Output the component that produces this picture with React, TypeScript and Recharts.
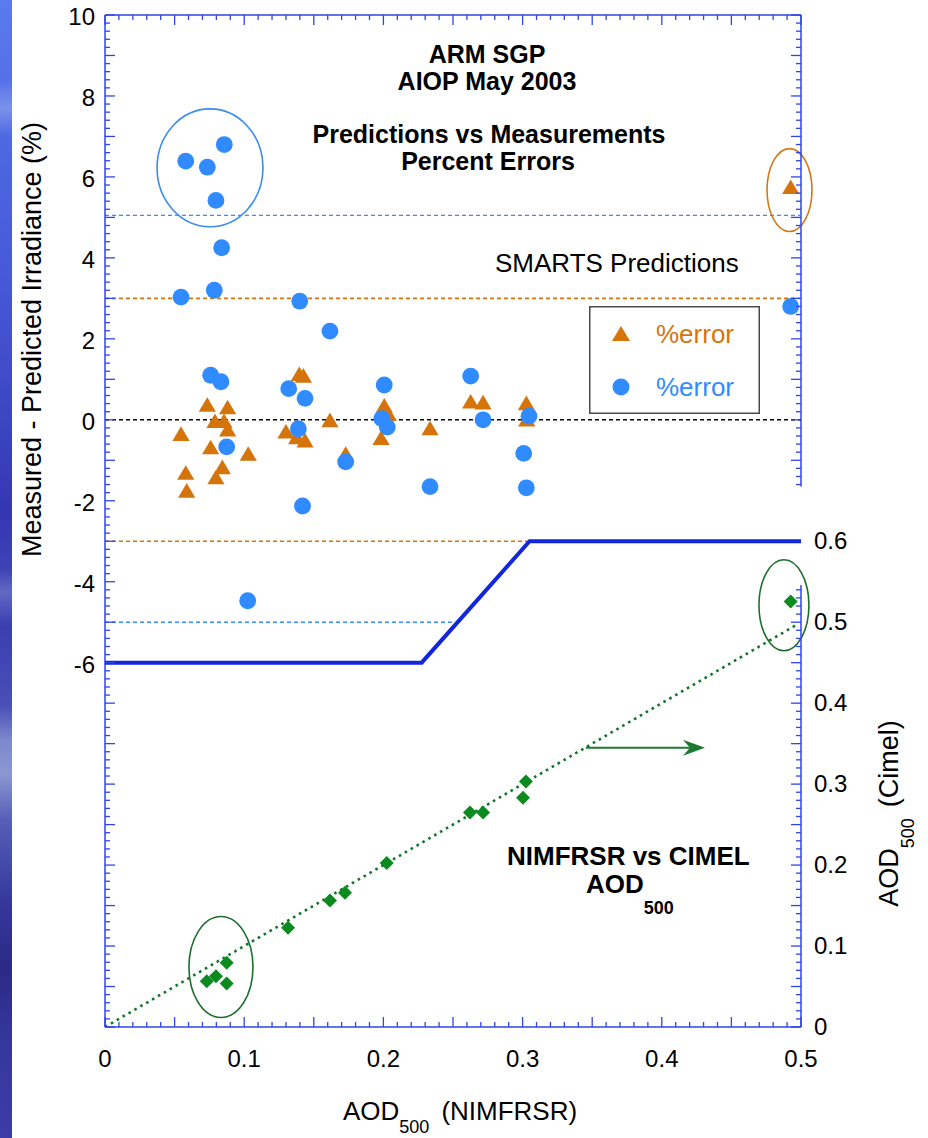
import React from 'react';
import {
  ScatterChart,
  Scatter,
  XAxis,
  YAxis,
  ReferenceLine,
  ReferenceArea,
  Legend,
} from 'recharts';

const W = 928;
const H = 1138;
const FONT = '"Liberation Sans", Arial, Helvetica, sans-serif';
const AXIS = '#2f45e8';
const ORANGE = '#d5740b';
const BLUE = '#2f8bff';
const GREEN = '#0b8a1f';
const DARK_GREEN = '#1d6e2e';
const LINE_BLUE = '#1227dc';

// Percent error (measured - predicted irradiance) vs AOD500 from NIMFRSR, triangle series
const trianglePctError = [
  { x: 0.0546, y: -0.36 },
  { x: 0.058, y: -1.32 },
  { x: 0.0587, y: -1.76 },
  { x: 0.0735, y: 0.36 },
  { x: 0.079, y: -0.04 },
  { x: 0.0759, y: -0.69 },
  { x: 0.0855, y: -0.04 },
  { x: 0.0881, y: 0.3 },
  { x: 0.0881, y: -0.25 },
  { x: 0.0843, y: -1.18 },
  { x: 0.0797, y: -1.43 },
  { x: 0.1029, y: -0.85 },
  { x: 0.13, y: -0.3 },
  { x: 0.1396, y: 1.12 },
  { x: 0.1425, y: 1.08 },
  { x: 0.1377, y: -0.44 },
  { x: 0.1437, y: -0.52 },
  { x: 0.1616, y: -0.02 },
  { x: 0.1729, y: -0.85 },
  { x: 0.2006, y: 0.34 },
  { x: 0.2035, y: 0.14 },
  { x: 0.1983, y: -0.46 },
  { x: 0.2335, y: -0.22 },
  { x: 0.2627, y: 0.44 },
  { x: 0.2716, y: 0.42 },
  { x: 0.3027, y: 0.4 },
  { x: 0.303, y: 0.0 },
  { x: 0.4926, y: 5.74 },
];

// Percent error vs AOD500 from NIMFRSR, circle series
const circlePctError = [
  { x: 0.058, y: 6.39 },
  { x: 0.0735, y: 6.24 },
  { x: 0.0857, y: 6.8 },
  { x: 0.0797, y: 5.42 },
  { x: 0.0838, y: 4.25 },
  { x: 0.0546, y: 3.03 },
  { x: 0.0785, y: 3.2 },
  { x: 0.1399, y: 2.93 },
  { x: 0.1616, y: 2.19 },
  { x: 0.0759, y: 1.1 },
  { x: 0.0833, y: 0.94 },
  { x: 0.0874, y: -0.67 },
  { x: 0.132, y: 0.77 },
  { x: 0.1437, y: 0.53 },
  { x: 0.1389, y: -0.22 },
  { x: 0.1419, y: -2.13 },
  { x: 0.1729, y: -1.04 },
  { x: 0.2006, y: 0.86 },
  { x: 0.1988, y: 0.03 },
  { x: 0.2028, y: -0.18 },
  { x: 0.2335, y: -1.65 },
  { x: 0.2627, y: 1.08 },
  { x: 0.2716, y: 0.0 },
  { x: 0.3008, y: -0.83 },
  { x: 0.3027, y: -1.68 },
  { x: 0.3046, y: 0.09 },
  { x: 0.4926, y: 2.8 },
  { x: 0.1025, y: -4.47 },
];

// AOD500: NIMFRSR (x) vs CIMEL (y, right axis)
const cimelVsNimfrsr = [
  { x: 0.0731, y: 0.0565 },
  { x: 0.0797, y: 0.0627 },
  { x: 0.0874, y: 0.0793 },
  { x: 0.0874, y: 0.0537 },
  { x: 0.1315, y: 0.1225 },
  { x: 0.1616, y: 0.1562 },
  { x: 0.1724, y: 0.1657 },
  { x: 0.2024, y: 0.2027 },
  { x: 0.2622, y: 0.2648 },
  { x: 0.2716, y: 0.2648 },
  { x: 0.3024, y: 0.3031 },
  { x: 0.3003, y: 0.2833 },
  { x: 0.4926, y: 0.5257 },
];

// 1:1 reference line for the AOD comparison
const oneToOne = [
  { x: 0, y: 0 },
  { x: 0.497, y: 0.497 },
];

// Error-limit envelope (left axis units)
const limitEnvelope = [
  { x: 0, y: -6 },
  { x: 0.2275, y: -6 },
  { x: 0.305, y: -3 },
  { x: 0.5, y: -3 },
];

// Outlined groups of points (axis-unit bounds)
const blueGroup = { x1: 0.0374, x2: 0.1135, y1: 4.77, y2: 7.68 };
const orangeGroup = { x1: 0.4756, x2: 0.5079, y1: 4.65, y2: 6.7 };
const greenHighGroup = { x1: 0.4698, x2: 0.5057, y1: 0.4648, y2: 0.5772 };
const greenLowGroup = { x1: 0.0603, x2: 0.1063, y1: 0.0117, y2: 0.1364 };
// Arrow pointing toward the right-hand axis
const rightArrow = { x1: 0.3455, x2: 0.431, y1: 0.335, y2: 0.355 };

// Tick labels
const xTickLabels = [0, 0.1, 0.2, 0.3, 0.4, 0.5];
const leftTickLabels = [-6, -4, -2, 0, 2, 4, 6, 8, 10];
const rightTickLabels = [0, 0.1, 0.2, 0.3, 0.4, 0.5, 0.6];

const stepTicks = (from: number, to: number, per: number) => {
  const out: number[] = [];
  for (let i = Math.round(from * per); i <= Math.round(to * per); i++) out.push(i / per);
  return out;
};

const xTicks = stepTicks(0, 0.5, 100);
const leftTicks = stepTicks(-15, 10, 5);
const rightTicks = [...stepTicks(0, 0.54, 100), 0.6, ...stepTicks(0.67, 1.25, 100)];

const near = (a: number, b: number) => Math.abs(a - b) < 1e-6;
const isInt = (v: number) => near(v, Math.round(v));

const labelStyle = { fontFamily: FONT, fontSize: 24, fill: '#000' } as const;

const BottomTick = (p: any) => {
  const v = p.payload.value;
  const k = Math.round(v * 100);
  const len = k % 5 === 0 ? 10 : 5;
  const lab = xTickLabels.find((t) => near(t, v));
  return (
    <g>
      <line x1={p.x} x2={p.x} y1={p.y} y2={p.y - len} stroke={AXIS} strokeWidth={1.3} />
      {lab !== undefined && (
        <text x={p.x} y={p.y + 40} textAnchor="middle" {...labelStyle}>
          {lab === 0 ? '0' : lab.toFixed(1)}
        </text>
      )}
    </g>
  );
};

const TopTick = (p: any) => {
  const v = p.payload.value;
  const k = Math.round(v * 100);
  const len = k % 5 === 0 ? 10 : 5;
  return <line x1={p.x} x2={p.x} y1={p.y} y2={p.y + len} stroke={AXIS} strokeWidth={1.3} />;
};

const LeftTick = (p: any) => {
  const v = p.payload.value;
  const len = isInt(v) ? 10 : 5;
  const lab = leftTickLabels.find((t) => near(t, v));
  return (
    <g>
      <line x1={p.x} x2={p.x + len} y1={p.y} y2={p.y} stroke={AXIS} strokeWidth={1.3} />
      {lab !== undefined && (
        <text x={p.x - 10} y={p.y + 10} textAnchor="end" {...labelStyle}>
          {String(lab)}
        </text>
      )}
    </g>
  );
};

const RightTick = (p: any) => {
  const v = p.payload.value;
  const lab = rightTickLabels.find((t) => near(t, v));
  const onAxis = v <= 0.545 || v >= 0.665;
  const len = isInt(v * 20 - 15) ? 10 : 5;
  return (
    <g>
      {onAxis && <line x1={p.x} x2={p.x - len} y1={p.y} y2={p.y} stroke={AXIS} strokeWidth={1.3} />}
      {lab !== undefined && (
        <text x={p.x + 13} y={p.y + 8} textAnchor="start" {...labelStyle}>
          {lab === 0 ? '0' : lab.toFixed(1)}
        </text>
      )}
    </g>
  );
};

const ellipseShape = (stroke: string) => (p: any) => (
  <ellipse
    cx={p.x + p.width / 2}
    cy={p.y + p.height / 2}
    rx={Math.abs(p.width) / 2}
    ry={Math.abs(p.height) / 2}
    fill="none"
    stroke={stroke}
    strokeWidth={1.6}
  />
);

const arrowShape = (p: any) => {
  const y = p.y + p.height / 2;
  const x0 = p.x;
  const x1 = p.x + p.width;
  return (
    <g>
      <line x1={x0} x2={x1 - 10} y1={y} y2={y} stroke="#1e7a30" strokeWidth={2} />
      <polygon
        points={`${x1},${y} ${x1 - 22},${y - 8} ${x1 - 15},${y} ${x1 - 22},${y + 8}`}
        fill="#1e7a30"
      />
    </g>
  );
};

const TriangleMark = (p: any) => (
  <polygon
    points={`${p.cx},${p.cy - 8} ${p.cx - 8.6},${p.cy + 6.6} ${p.cx + 8.6},${p.cy + 6.6}`}
    fill={ORANGE}
  />
);
const CircleMark = (p: any) => <circle cx={p.cx} cy={p.cy} r={8.4} fill={BLUE} />;
const DiamondMark = (p: any) => (
  <polygon
    points={`${p.cx},${p.cy - 7} ${p.cx + 7},${p.cy} ${p.cx},${p.cy + 7} ${p.cx - 7},${p.cy}`}
    fill={GREEN}
  />
);
const NoMark = () => <g />;

const LegendBox = (props: any) => {
  const items = (props.payload || []).filter((e: any) => e.type === 'triangle' || e.type === 'circle');
  return (
    <svg width={171} height={108} style={{ display: 'block' }}>
      <rect x={0.75} y={0.75} width={169.5} height={106.5} fill="#fff" stroke="#4a4a4a" strokeWidth={1.5} />
      {items.map((e: any, i: number) => {
        const cy = 28 + i * 53;
        const color = e.type === 'triangle' ? ORANGE : BLUE;
        return (
          <g key={i}>
            {e.type === 'triangle' ? (
              <polygon points={`32,${cy - 8} ${23},${cy + 7} ${41},${cy + 7}`} fill={color} />
            ) : (
              <circle cx={32} cy={cy} r={8.5} fill={color} />
            )}
            <text x={67} y={cy + 9} fontFamily={FONT} fontSize={26} fill={color}>
              {e.value}
            </text>
          </g>
        );
      })}
    </svg>
  );
};

const stripGradient =
  'linear-gradient(to bottom, #5b7aee 0%, #5570ea 7%, #7b92ec 9.5%, #4f68e2 12%, #4658d6 25%, #3d47c4 36%, #3636b2 45%, #3d43b6 50%, #6169c4 52%, #3a3eb0 55%, #4950b8 62%, #7c88cc 65%, #8c97d2 68%, #5560b8 72%, #36389e 79%, #2b2a88 85%, #35369c 91%, #3c3ca8 100%)';

export default function App() {
  return (
    <div style={{ position: 'absolute', left: 0, top: 0, width: W, height: H, background: '#fff' }}>
      <div style={{ position: 'absolute', left: 0, top: 0, width: 12, height: H, background: stripGradient }} />
      <div style={{ position: 'absolute', left: 0, top: 0 }}>
        <ScatterChart width={W} height={H} margin={{ top: 0, right: 0, bottom: 0, left: 0 }}>
          <XAxis
            xAxisId="top"
            orientation="top"
            type="number"
            dataKey="x"
            domain={[0, 0.5]}
            allowDataOverflow
            ticks={xTicks}
            interval={0}
            height={15}
            tickSize={0}
            tickMargin={0}
            tickLine={false}
            axisLine={{ stroke: AXIS, strokeWidth: 1.5 }}
            tick={<TopTick />}
          />
          <XAxis
            type="number"
            dataKey="x"
            domain={[0, 0.5]}
            allowDataOverflow
            ticks={xTicks}
            interval={0}
            height={111}
            tickSize={0}
            tickMargin={0}
            tickLine={false}
            axisLine={{ stroke: AXIS, strokeWidth: 1.5 }}
            tick={<BottomTick />}
          />
          <YAxis
            yAxisId="left"
            type="number"
            dataKey="y"
            domain={[-15, 10]}
            allowDataOverflow
            ticks={leftTicks}
            interval={0}
            width={105}
            tickSize={0}
            tickMargin={0}
            tickLine={false}
            axisLine={{ stroke: AXIS, strokeWidth: 1.5 }}
            tick={<LeftTick />}
          />
          <YAxis
            yAxisId="right"
            orientation="right"
            type="number"
            dataKey="y"
            domain={[0, 1.25]}
            allowDataOverflow
            ticks={rightTicks}
            interval={0}
            width={127}
            tickSize={0}
            tickMargin={0}
            tickLine={false}
            axisLine={false}
            tick={<RightTick />}
          />

          {/* right-hand axis line, upper (percent) and lower (AOD) portions */}
          <ReferenceLine
            yAxisId="left"
            segment={[{ x: 0.5, y: -1.65 }, { x: 0.5, y: 10 }]}
            stroke={AXIS}
            strokeWidth={1.5}
            ifOverflow="visible"
          />
          <ReferenceLine
            yAxisId="right"
            segment={[{ x: 0.5, y: 0 }, { x: 0.5, y: 0.546 }]}
            stroke={AXIS}
            strokeWidth={1.5}
            ifOverflow="visible"
          />

          {/* dotted reference levels */}
          <ReferenceLine yAxisId="left" y={5.05} stroke="#3a8cf5" strokeWidth={1.4} strokeDasharray="4 3" />
          <ReferenceLine yAxisId="left" y={3} stroke={ORANGE} strokeWidth={1.6} strokeDasharray="4 3" />
          <ReferenceLine yAxisId="left" y={0} stroke="#000" strokeWidth={1.6} strokeDasharray="4 3" />
          <ReferenceLine
            yAxisId="left"
            segment={[{ x: 0, y: -3 }, { x: 0.304, y: -3 }]}
            stroke={ORANGE}
            strokeWidth={1.4}
            strokeDasharray="4 3"
          />
          <ReferenceLine
            yAxisId="left"
            segment={[{ x: 0, y: -5 }, { x: 0.2505, y: -5 }]}
            stroke="#3a8cf5"
            strokeWidth={1.4}
            strokeDasharray="4 3"
          />

          <Scatter
            name="limit"
            data={limitEnvelope}
            yAxisId="left"
            line={{ stroke: LINE_BLUE, strokeWidth: 4 }}
            lineType="joint"
            shape={<NoMark />}
            legendType="none"
            isAnimationActive={false}
          />
          <Scatter
            name="1:1"
            data={oneToOne}
            yAxisId="right"
            line={{ stroke: '#12752a', strokeWidth: 2.6, strokeDasharray: '2.6 4.2' }}
            lineType="joint"
            shape={<NoMark />}
            legendType="none"
            isAnimationActive={false}
          />

          <Scatter
            name="%error"
            data={trianglePctError}
            yAxisId="left"
            fill={ORANGE}
            shape={<TriangleMark />}
            legendType="triangle"
            isAnimationActive={false}
          />
          <Scatter
            name="%error"
            data={circlePctError}
            yAxisId="left"
            fill={BLUE}
            shape={<CircleMark />}
            legendType="circle"
            isAnimationActive={false}
          />
          <Scatter
            name="AOD500"
            data={cimelVsNimfrsr}
            yAxisId="right"
            fill={GREEN}
            shape={<DiamondMark />}
            legendType="none"
            isAnimationActive={false}
          />

          <ReferenceArea yAxisId="left" {...blueGroup} ifOverflow="visible" shape={ellipseShape('#3a8ef0')} />
          <ReferenceArea yAxisId="left" {...orangeGroup} ifOverflow="visible" shape={ellipseShape('#d07a18')} />
          <ReferenceArea yAxisId="right" {...greenHighGroup} ifOverflow="visible" shape={ellipseShape(DARK_GREEN)} />
          <ReferenceArea yAxisId="right" {...greenLowGroup} ifOverflow="visible" shape={ellipseShape(DARK_GREEN)} />
          <ReferenceArea yAxisId="right" {...rightArrow} ifOverflow="visible" shape={arrowShape} />

          <Legend
            layout="vertical"
            align="center"
            verticalAlign="middle"
            wrapperStyle={{ left: 589, top: 306, width: 171, height: 108 }}
            content={<LegendBox />}
          />
        </ScatterChart>
      </div>

      <svg
        width={W}
        height={H}
        style={{ position: 'absolute', left: 0, top: 0, pointerEvents: 'none' }}
        fontFamily={FONT}
      >
        <g fontWeight="bold" fontSize={25} textAnchor="middle" fill="#000">
          <text x={487} y={63}>ARM SGP</text>
          <text x={487} y={90}>AIOP May 2003</text>
          <text x={489} y={143}>Predictions vs Measurements</text>
          <text x={488} y={170}>Percent Errors</text>
        </g>
        <text x={495} y={272} fontSize={26} fill="#000">SMARTS Predictions</text>
        <g fontWeight="bold" fill="#000">
          <text x={507} y={865} fontSize={26}>NIMFRSR vs CIMEL</text>
          <text x={586} y={893} fontSize={26}>
            AOD
            <tspan dy={21} fontSize={18}>500</tspan>
          </text>
        </g>
        <text
          x={41}
          y={339.5}
          transform="rotate(-90 41 339.5)"
          textAnchor="middle"
          fontSize={27}
          fill="#000"
        >
          Measured - Predicted Irradiance (%)
        </text>
        <text x={898} y={906.7} transform="rotate(-90 898 906.7)" fontSize={27} fill="#000">
          AOD
          <tspan dy={16} fontSize={18}>500</tspan>
          <tspan dy={-16} dx={11}>(Cimel)</tspan>
        </text>
        <text x={343} y={1120} fontSize={26} fill="#000">
          AOD
          <tspan dy={13} fontSize={18}>500</tspan>
          <tspan dy={-13} dx={12}>(NIMFRSR)</tspan>
        </text>
      </svg>
    </div>
  );
}
